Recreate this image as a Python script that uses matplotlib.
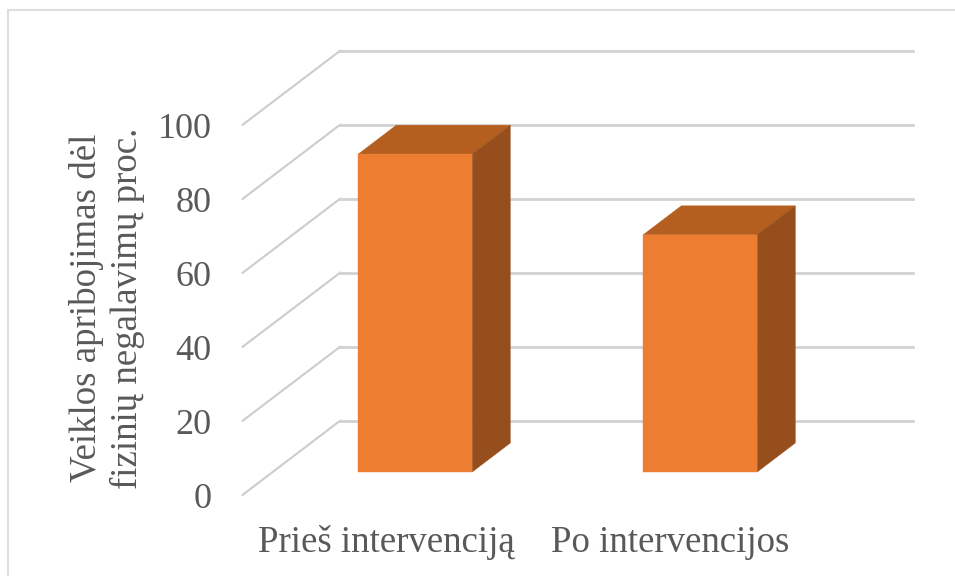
import matplotlib
matplotlib.use("Agg")
import matplotlib.pyplot as plt
from matplotlib.lines import Line2D
from matplotlib.patches import Polygon

categories = ["Prieš intervenciją", "Po intervencijos"]
values = [85.9, 64.1]
value_ticks = [0, 20, 40, 60, 80, 100]
axis_title = "Veiklos apribojimas dėl\nfizinių negalavimų proc."

FRONT = "#ED7D31"
TOP = "#B45F20"
SIDE = "#964F1C"
GRID = "#D2D2D2"
TEXT = "#595959"
FRAME = "#DEDEDE"

W, H = 955, 576
# one category spans 285 px, one value unit 3.7 px
PX_X, PX_Y = 285.0, 3.7
LEFT_PX, ZERO_PX = 242.4, 495.0
# oblique offset of the back wall, in data units
DEPTH_X, DEPTH_Y = 98.0 / PX_X, 74.5 / PX_Y
BAR_WIDTH = 0.4
BAR_NEAR, BAR_FAR = 0.309, 0.698

plt.rcParams["font.family"] = ["Liberation Serif", "DejaVu Serif"]
fig = plt.figure(figsize=(W / 100, H / 100), dpi=100, facecolor="white")
ax = fig.add_axes([0, 0, 1, 1])
ax.set_xlim(-0.5 - LEFT_PX / PX_X, -0.5 + (W - LEFT_PX) / PX_X)
ax.set_ylim(-(H - ZERO_PX) / PX_Y, ZERO_PX / PX_Y)
ax.axis("off")


def project(cat, val, depth):
    """Oblique projection of (category, value, depth) on to the axes plane."""
    return cat + depth * DEPTH_X, val + depth * DEPTH_Y


# chart frame: only the top and left edges fall inside the canvas
fig.add_artist(Line2D([7.5 / W, 7.5 / W, 1], [0, 1 - 10 / H, 1 - 10 / H],
                      color=FRAME, lw=1.5, solid_joinstyle="miter"))

# side wall and back wall gridlines
for v in value_ticks:
    a = project(-0.5, v, 0)
    b = project(-0.5, v, 1)
    c = project(1.5, v, 1)
    ax.plot([a[0], b[0]], [a[1], b[1]], color="#CCCCCC", lw=1.5, zorder=1,
            solid_capstyle="round")
    ax.plot([b[0], c[0] + 2.5 / PX_X], [b[1], c[1]], color=GRID, lw=2.0, zorder=1)

# bars as oblique boxes
for i, v in enumerate(values):
    x0, x1 = i - BAR_WIDTH / 2, i + BAR_WIDTH / 2
    nl0 = project(x0, 0, BAR_NEAR)
    nr0 = project(x1, 0, BAR_NEAR)
    nl1 = project(x0, v, BAR_NEAR)
    nr1 = project(x1, v, BAR_NEAR)
    fr0 = project(x1, 0, BAR_FAR)
    fr1 = project(x1, v, BAR_FAR)
    fl1 = project(x0, v, BAR_FAR)
    ax.add_patch(Polygon([nl1, fl1, fr1, nr1], closed=True, facecolor=TOP,
                         edgecolor=TOP, lw=0.3, zorder=3))
    ax.add_patch(Polygon([nr0, fr0, fr1, nr1], closed=True, facecolor=SIDE,
                         edgecolor=SIDE, lw=0.3, zorder=3))
    ax.add_patch(Polygon([nl0, nr0, nr1, nl1], closed=True, facecolor=FRONT,
                         edgecolor=FRONT, lw=0.3, zorder=4))

# value axis labels
for v in value_ticks:
    ax.annotate(str(v), xy=(-0.5, v), xytext=(-31, 0), textcoords="offset pixels",
                ha="right", va="center_baseline", fontsize=26, color=TEXT)

# category labels
for i, name in enumerate(categories):
    ax.annotate(name, xy=(i, 0), xytext=(1 if i == 0 else 0, -48),
                textcoords="offset pixels", ha="center", va="center",
                fontsize=26.6, color=TEXT)

fig.text(107 / W, 1 - 308 / H, axis_title, rotation=90, ha="center", va="center",
         multialignment="center", fontsize=26.6, color=TEXT, linespacing=1.2)

fig.savefig("out.png", dpi=100, facecolor="white")
